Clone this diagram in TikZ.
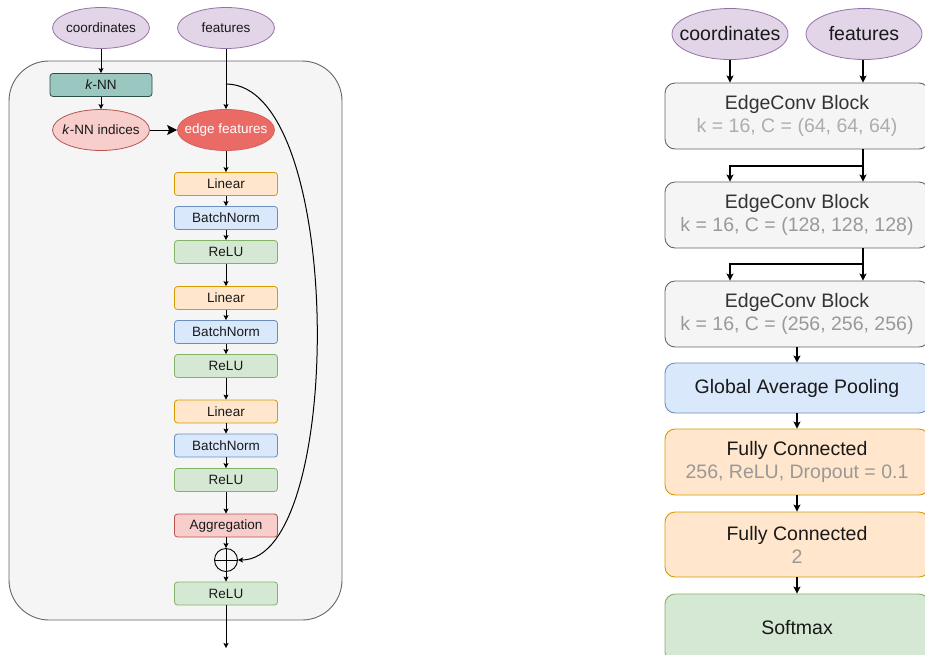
\documentclass[tikz,border=0pt]{standalone}
\usepackage{fontspec}
\setmainfont{Liberation Sans}
\usetikzlibrary{shapes.geometric,arrows.meta,positioning}
\definecolor{purpfill}{HTML}{E1D5E7}
\definecolor{purpline}{HTML}{9673A6}
\definecolor{orfill}{HTML}{FFE6CC}
\definecolor{orline}{HTML}{D79B00}
\definecolor{bluefill}{HTML}{DAE8FC}
\definecolor{blueline}{HTML}{6C8EBF}
\definecolor{grfill}{HTML}{D5E8D4}
\definecolor{grline}{HTML}{82B366}
\definecolor{redfill}{HTML}{F8CECC}
\definecolor{redline}{HTML}{B85450}
\definecolor{edgefill}{HTML}{EA6B66}
\definecolor{tealfill}{HTML}{9AC7BF}
\definecolor{tealline}{HTML}{2B4F48}
\definecolor{boxfill}{HTML}{F5F5F5}
\definecolor{boxline}{HTML}{666666}
\definecolor{subtext}{HTML}{999999}

\begin{document}
\begin{tikzpicture}[x=1pt,y=-1pt,
    every node/.style={font=\fontsize{13.5}{16}\selectfont,inner sep=0pt,text=black!90},
    inp/.style={ellipse,draw=purpline,fill=purpfill,line width=0.8pt,inner xsep=-20pt,
        minimum width=97pt,minimum height=41pt},
    layer/.style={rectangle,rounded corners=3pt,line width=0.8pt,minimum width=103pt,minimum height=23pt},
    lin/.style={layer,draw=orline,fill=orfill},
    bn/.style={layer,draw=blueline,fill=bluefill},
    relu/.style={layer,draw=grline,fill=grfill},
    arr/.style={-{Stealth[length=5pt,width=5pt,inset=1pt]},line width=0.8pt},
    rinp/.style={inp,minimum width=116pt,minimum height=51pt,font=\fontsize{19.5}{23}\selectfont},
    block/.style={rectangle,rounded corners=10pt,line width=0.9pt,minimum width=264pt,align=center,
        font=\fontsize{19.5}{23}\selectfont},
    rarr/.style={-{Stealth[length=7pt,width=7pt,inset=1.5pt]},line width=1.2pt},
]
    \useasboundingbox (0,0) rectangle (925,654);
    \clip (0,0) rectangle (925,654);
    % left: one EdgeConv block
    \draw[draw=boxline,fill=boxfill,line width=0.9pt,rounded corners=40pt] (9,61) rectangle (342,620);
    \node[inp] (coords) at (101,28) {coordinates};
    \node[inp] (feats) at (226,28) {features};
    \node[layer,draw=tealline,fill=tealfill,minimum width=102pt] (knn) at (101,85) {\textit{k}-NN};
    \node[inp,draw=redline,fill=redfill] (idx) at (101,130) {\textit{k}-NN indices};
    \node[inp,draw=edgefill!90!black,fill=edgefill,text=white] (edge) at (226,130) {edge features};
    \node[lin] (lin1) at (226,184) {Linear};
    \node[bn] (bn1) at (226,218) {BatchNorm};
    \node[relu] (relu1) at (226,252) {ReLU};
    \node[lin] (lin2) at (226,298) {Linear};
    \node[bn] (bn2) at (226,332) {BatchNorm};
    \node[relu] (relu2) at (226,366) {ReLU};
    \node[lin] (lin3) at (226,411.5) {Linear};
    \node[bn] (bn3) at (226,445.5) {BatchNorm};
    \node[relu] (relu3) at (226,480) {ReLU};
    \node[layer,draw=redline,fill=redfill] (agg) at (226,525.5) {Aggregation};
    \node[circle,draw,line width=0.9pt,minimum size=23pt] (plus) at (226,560) {};
    \node[relu] (relu4) at (226,593.5) {ReLU};
    \coordinate (tap) at (226,84);
    \coordinate (out) at (226,648);

    \draw[arr] (coords) -- (knn);
    \draw[arr] (knn) -- (idx);
    \draw[-{Stealth[length=10pt,width=10pt,inset=2pt]},line width=0.8pt] (idx) -- (edge);
    \draw[arr] (feats) -- (edge);
    \draw[arr] (edge) -- (lin1);
    \draw[arr] (lin1) -- (bn1);
    \draw[arr] (bn1) -- (relu1);
    \draw[arr] (relu1) -- (lin2);
    \draw[arr] (lin2) -- (bn2);
    \draw[arr] (bn2) -- (relu2);
    \draw[arr] (relu2) -- (lin3);
    \draw[arr] (lin3) -- (bn3);
    \draw[arr] (bn3) -- (relu3);
    \draw[arr] (relu3) -- (agg);
    \draw[arr] (agg) -- (plus);
    \draw[line width=0.9pt] (plus.north) -- (plus.south) (plus.west) -- (plus.east);
    \draw[arr] (plus) -- (relu4);
    \draw[arr] (relu4) -- (out);
    \draw[arr,line width=1pt] (tap) .. controls (345,84) and (345,560) .. (plus.east);

    % right: whole network
    \node[rinp] (rcoords) at (730,34) {coordinates};
    \node[rinp] (rfeats) at (864,34) {features};
    \node[block,draw=boxline,fill=boxfill,minimum height=66pt] (ec1) at (797,116)
        {\textcolor{black!80}{EdgeConv Block}\\\textcolor{subtext!80}{k = 16, C = (64, 64, 64)}};
    \node[block,draw=boxline,fill=boxfill,minimum height=66pt] (ec2) at (797,215)
        {\textcolor{black!80}{EdgeConv Block}\\\textcolor{subtext}{k = 16, C = (128, 128, 128)}};
    \node[block,draw=boxline,fill=boxfill,minimum height=66pt] (ec3) at (797,314)
        {\textcolor{black!80}{EdgeConv Block}\\\textcolor{subtext}{k = 16, C = (256, 256, 256)}};
    \node[block,draw=blueline,fill=bluefill,minimum height=50pt] (gap) at (797,388) {Global Average Pooling};
    \node[block,draw=orline,fill=orfill,minimum height=66pt] (fc1) at (797,462)
        {Fully Connected\\\textcolor{subtext}{256, ReLU, Dropout = 0.1}};
    \node[block,draw=orline,fill=orfill,minimum height=65pt] (fc2) at (797,544.5)
        {Fully Connected\\\textcolor{subtext}{2}};
    \node[block,draw=grline,fill=grfill,minimum height=68pt] (soft) at (797,628) {Softmax};
    \coordinate (j1) at (863,166);
    \coordinate (j2) at (863,264);

    \draw[rarr] (rcoords.south) -- (rcoords.south |- ec1.north);
    \draw[rarr] (rfeats.south -| j1) -- (ec1.north -| j1);
    \draw[rarr] (ec1.south -| j1) -- (ec2.north -| j1);
    \draw[rarr] (j1) -| (ec2.north -| rcoords);
    \draw[rarr] (ec2.south -| j2) -- (ec3.north -| j2);
    \draw[rarr] (j2) -| (ec3.north -| rcoords);
    \draw[rarr] (ec3) -- (gap);
    \draw[rarr] (gap) -- (fc1);
    \draw[rarr] (fc1) -- (fc2);
    \draw[rarr] (fc2) -- (soft);
\end{tikzpicture}
\end{document}
